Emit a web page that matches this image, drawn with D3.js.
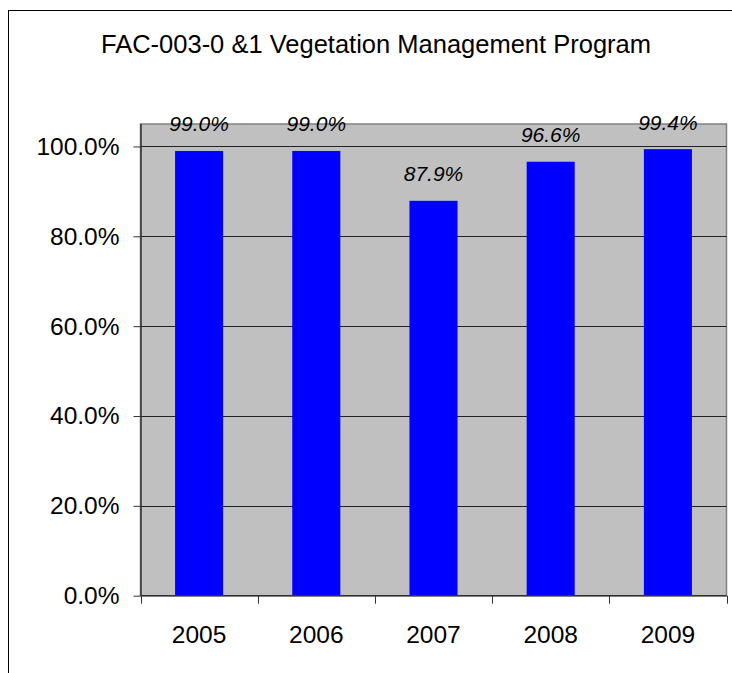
<!DOCTYPE html>
<html>
<head>
<meta charset="utf-8">
<script src="https://cdn.jsdelivr.net/npm/d3@7"></script>
<style>
  body { margin: 0; background: #fff; }
  text { font-family: "Liberation Sans", Arial, sans-serif; }
</style>
</head>
<body>
<div id="container"></div>
<script>
const years = ["2005", "2006", "2007", "2008", "2009"];
const values = [0.990, 0.990, 0.879, 0.966, 0.994];
const yTicks = [0, 0.2, 0.4, 0.6, 0.8, 1.0];
const title = "FAC-003-0 &1 Vegetation Management Program";

function main() {
    const width = 732, height = 673;
    const svg = d3.select("#container")
        .append("svg")
        .attr("width", width)
        .attr("height", height);

    // outer chart frame (cut off at right and bottom)
    svg.append("rect")
        .attr("x", 8.5)
        .attr("y", 10.5)
        .attr("width", 740)
        .attr("height", 700)
        .attr("fill", "#fff")
        .attr("stroke", "#000")
        .attr("stroke-width", 1);

    svg.append("text")
        .attr("x", 376)
        .attr("y", 53)
        .attr("text-anchor", "middle")
        .attr("font-size", 25.5)
        .text(title);

    const plot = { left: 140.5, right: 726.5, top: 124, bottom: 595.7 };

    const x = d3.scaleBand()
        .domain(years)
        .range([plot.left, plot.right])
        .paddingInner(0.59)
        .paddingOuter(0.295);
    const y = d3.scaleLinear()
        .domain([0, 1.05])
        .range([plot.bottom, plot.top]);

    // plot background
    svg.append("rect")
        .attr("x", plot.left)
        .attr("y", plot.top)
        .attr("width", plot.right - plot.left)
        .attr("height", plot.bottom - plot.top)
        .attr("fill", "#c0c0c0")
        .attr("stroke", "#808080")
        .attr("stroke-width", 1.5);

    // gridlines
    svg.append("g")
        .selectAll("line")
        .data(yTicks.filter(d => d > 0))
        .join("line")
        .attr("x1", plot.left)
        .attr("x2", plot.right)
        .attr("y1", d => Math.round(y(d)) + 0.5)
        .attr("y2", d => Math.round(y(d)) + 0.5)
        .attr("stroke", "#222")
        .attr("stroke-width", 1);

    // bars
    svg.append("g")
        .selectAll("rect")
        .data(years.map((d, i) => ({ year: d, value: values[i] })))
        .join("rect")
        .attr("x", d => x(d.year))
        .attr("y", d => y(d.value))
        .attr("width", x.bandwidth())
        .attr("height", d => y(0) - y(d.value))
        .attr("fill", "#0000ff");

    // value labels
    svg.append("g")
        .selectAll("text")
        .data(years.map((d, i) => ({ year: d, value: values[i] })))
        .join("text")
        .attr("x", d => x(d.year) + x.bandwidth() / 2)
        .attr("y", d => y(d.value) - 19.5)
        .attr("text-anchor", "middle")
        .attr("font-size", 21)
        .attr("font-style", "italic")
        .text(d => d3.format(".1%")(d.value));

    // y axis
    const yAxis = svg.append("g")
        .attr("transform", `translate(${plot.left},0)`)
        .call(d3.axisLeft(y)
            .tickValues(yTicks)
            .tickFormat(d3.format(".1%"))
            .tickSize(7)
            .tickPadding(14));
    yAxis.select(".domain")
        .attr("d", `M0.5,${plot.top}V${plot.bottom}`)
        .attr("stroke", "#333")
        .attr("stroke-width", 1.5);
    yAxis.selectAll(".tick line").attr("stroke", "#333");
    yAxis.selectAll(".tick text")
        .attr("font-size", 24.5)
        .attr("font-family", "Liberation Sans, Arial, sans-serif")
        .attr("fill", "#000");

    // x axis, ticks at category boundaries
    const xAxis = svg.append("g")
        .attr("transform", `translate(0,${plot.bottom})`);
    xAxis.append("line")
        .attr("x1", plot.left)
        .attr("x2", plot.right)
        .attr("stroke", "#333")
        .attr("stroke-width", 1.5);
    const step = x.step();
    xAxis.selectAll(".xtick")
        .data(d3.range(years.length + 1))
        .join("line")
        .attr("class", "xtick")
        .attr("x1", i => Math.round(plot.left + i * step) + 0.5)
        .attr("x2", i => Math.round(plot.left + i * step) + 0.5)
        .attr("y1", 0)
        .attr("y2", 8)
        .attr("stroke", "#333");
    xAxis.selectAll(".xlab")
        .data(years)
        .join("text")
        .attr("class", "xlab")
        .attr("x", d => x(d) + x.bandwidth() / 2)
        .attr("y", 47)
        .attr("text-anchor", "middle")
        .attr("font-size", 24.5)
        .text(d => d);
}
main();
</script>
</body>
</html>
